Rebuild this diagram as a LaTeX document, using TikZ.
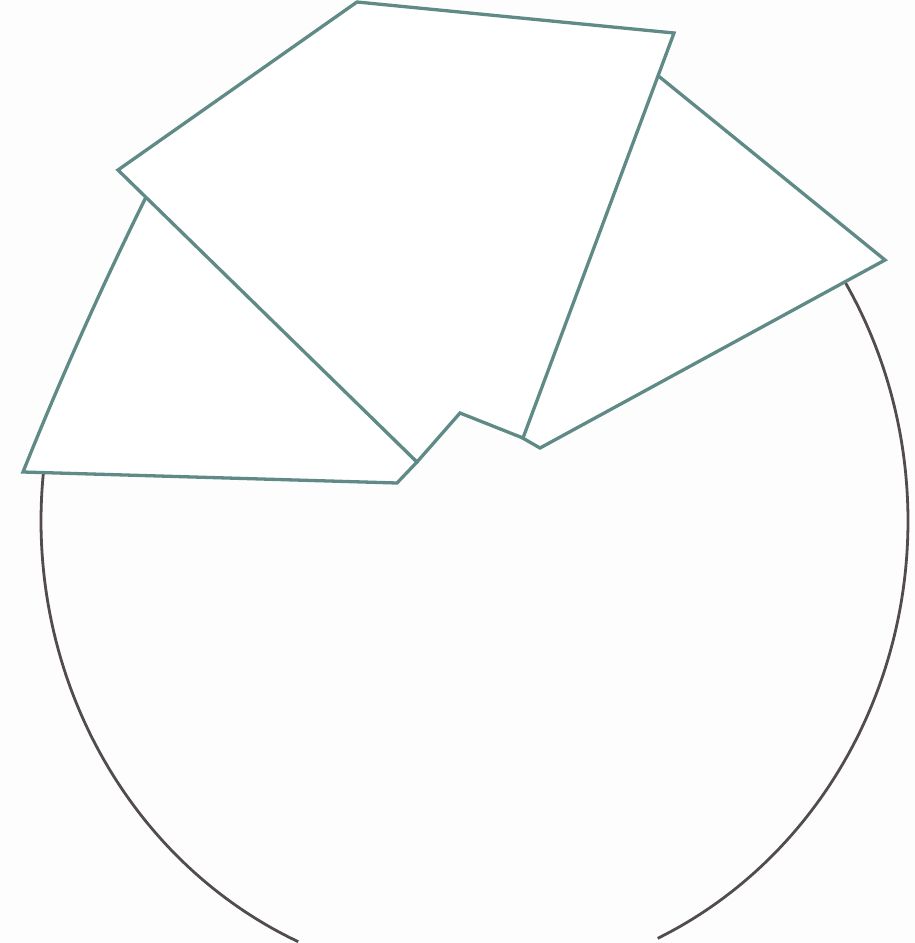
\documentclass[tikz,border=0pt]{standalone}
\begin{document}
\begin{tikzpicture}[x=1pt,y=-1pt,
  shapeline/.style={draw={rgb,255:red,95;green,138;blue,134}, fill=white, line width=3.3pt, line join=miter},
  rimline/.style={draw={rgb,255:red,82;green,76;blue,76}, line width=2.8pt}]
\useasboundingbox[fill={rgb,255:red,253;green,253;blue,253}] (0,0) rectangle (915,943);
% rim (ellipse arc, visible parts)
\draw[rimline] plot[domain=114:187, samples=120, smooth] ({474.5+433.5*cos(\x)}, {521+460.5*sin(\x)});
\draw[rimline] plot[domain=326:425, samples=160, smooth] ({474.5+433.5*cos(\x)}, {521+460.5*sin(\x)});
% left piece
\coordinate (l1) at (23,472);
\coordinate (l2) at (147,195);
\coordinate (l3) at (417,462);
\coordinate (l4) at (397,483);
\draw[shapeline] (l1) .. controls (60,380) and (100,290) .. (l2) -- (l3) -- (l4) -- cycle;
% right piece
\coordinate (r1) at (640,61);
\coordinate (r2) at (885,260);
\coordinate (r3) at (540,448);
\coordinate (r4) at (500,425);
\draw[shapeline] (r1) -- (r2) -- (r3) -- (r4) -- cycle;
% middle piece
\coordinate (m1) at (118,170);
\coordinate (m2) at (357,2);
\coordinate (m3) at (674,33);
\coordinate (m4) at (523,438);
\coordinate (m5) at (460,413);
\coordinate (m6) at (417,462);
\draw[shapeline] (m1) -- (m2) -- (m3) -- (m4) -- (m5) -- (m6) -- cycle;
\end{tikzpicture}
\end{document}
